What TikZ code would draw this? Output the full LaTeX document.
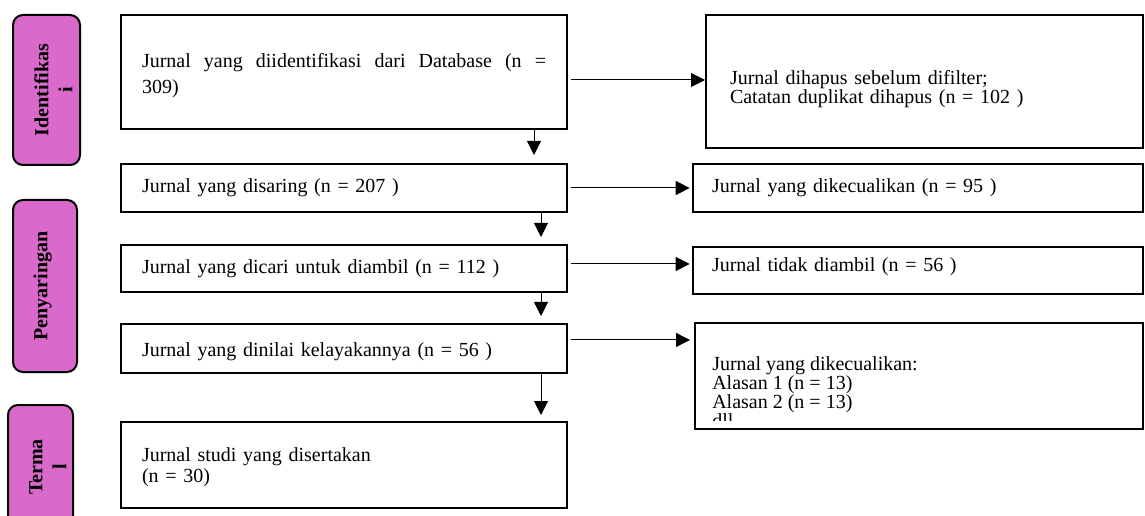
\documentclass[tikz,border=0pt]{standalone}
\usepackage{fontspec}
\setmainfont{Liberation Serif}
\usetikzlibrary{arrows.meta}
\definecolor{labelpink}{RGB}{217,106,204}

\tikzset{
  arr/.style={line width=0.75pt,-{Triangle[length=10.5pt,width=10.5pt]}},
  sidebox/.style={draw,line width=1.5pt,fill=labelpink,rounded corners=7.5pt,rotate=90},
  sidetext/.style={rotate=90,anchor=north,inner sep=0pt,align=center,
    font=\bfseries\fontsize{15pt}{18pt}\selectfont}
}

\begin{document}
\begin{tikzpicture}[x=0.75pt,y=-0.75pt,font=\fontsize{15pt}{14.25pt}\selectfont]
  \useasboundingbox (0,0) rectangle (1145,516);

  % stage labels
  \node[sidebox,minimum width=112.5pt,minimum height=50.25pt] (s1) at (46.5,90) {};
  \node[sidebox,minimum width=129pt,minimum height=48pt] (s2) at (45,286) {};
  \node[sidebox,minimum width=93pt,minimum height=48.75pt] (s3) at (40.5,467) {};
  \node[sidetext] (t1) at ([xshift=16.5pt]s1.north) {Identifikas\\i};
  \node[sidetext] (t2) at ([xshift=16pt]s2.north) {Penyaringan};
  \node[sidetext] (t3) at ([xshift=16.5pt]s3.north) {Terma\\l};

  \begin{scope}[every node/.style={draw,line width=1.5pt,inner xsep=15.75pt,inner ysep=0pt,
      text width=303pt,minimum width=334.5pt,align=left}]
    \node[minimum height=85.5pt,align=justify,font=\fontsize{15pt}{19.5pt}\selectfont,
      text height=10pt,text depth=16.8pt]
      (b1) at (344,72) {Jurnal yang diidentifikasi dari Database (n =\linebreak 309)};
    \node[minimum height=36pt] (b2) at (344,188) {Jurnal yang disaring (n = 207 )};
    \node[minimum height=35.25pt] (b3) at (344,268.5) {Jurnal yang dicari untuk diambil (n = 112 )};
    \node[minimum height=36.75pt,text height=14.9pt,text depth=3.3pt]
      (b4) at (344,348.5) {Jurnal yang dinilai kelayakannya (n = 56 )};
    \node[minimum height=64.5pt,font=\fontsize{15pt}{15.75pt}\selectfont,
      text height=10pt,text depth=15.2pt]
      (b5) at (344,465) {Jurnal studi yang disertakan\\(n = 30)};
  \end{scope}

  \begin{scope}[every node/.style={draw,line width=1.5pt,inner ysep=0pt,align=left}]
    \node[minimum width=327.75pt,minimum height=99.75pt,inner xsep=18pt,text width=291.75pt,
      text height=14.5pt,text depth=10pt]
      (r1) at (924.5,81.5) {Jurnal dihapus sebelum difilter;\\Catatan duplikat dihapus (n = 102 )};
    \node[minimum width=337.5pt,minimum height=36pt,inner xsep=14.25pt,text width=309pt]
      (r2) at (918,188) {Jurnal yang dikecualikan (n = 95 )};
    \node[minimum width=337.5pt,minimum height=35.25pt,inner xsep=14.25pt,text width=309pt,
      text height=10.4pt,text depth=9.3pt]
      (r3) at (918,270.5) {Jurnal tidak diambil (n = 56 )};
    \node[minimum width=336pt,minimum height=79.5pt] (r4) at (919,376) {};
  \end{scope}

  \begin{scope}
    \clip (r4.north west) rectangle ([yshift=7.5pt]r4.south east);
    \node[anchor=north west,inner sep=0pt,align=left] (r4text)
      at ([xshift=13.5pt,yshift=-26pt]r4.north west)
      {Jurnal yang dikecualikan:\\Alasan 1 (n = 13)\\Alasan 2 (n = 13)\\dll.};
  \end{scope}

  % flow down
  \path ([xshift=-25.5pt]b1.south east) edge[arr,shorten >=6pt] ([xshift=-25.5pt]b2.north east);
  \path ([xshift=-20.25pt]b2.south east) edge[arr,shorten >=5.25pt] ([xshift=-20.25pt]b3.north east);
  \path ([xshift=-20.25pt]b3.south east) edge[arr,shorten >=5.25pt] ([xshift=-20.25pt]b4.north east);
  \path ([xshift=-20.25pt]b4.south east) edge[arr,shorten >=4.5pt] ([xshift=-20.25pt]b5.north east);

  % exclusions
  \path ([yshift=-6pt]b1.east) edge[arr,shorten <=2.5pt] ([yshift=-6pt]b1.east -| r1.west);
  \path (b2.east) edge[arr,shorten <=2.5pt,shorten >=1.75pt] (b2.east -| r2.west);
  \path ([yshift=3.4pt]b3.east) edge[arr,shorten <=2.5pt,shorten >=1.75pt] ([yshift=3.4pt]b3.east -| r3.west);
  \path ([yshift=6.4pt]b4.east) edge[arr,shorten <=2.5pt,shorten >=3pt] ([yshift=6.4pt]b4.east -| r4.west);

\end{tikzpicture}
\end{document}
